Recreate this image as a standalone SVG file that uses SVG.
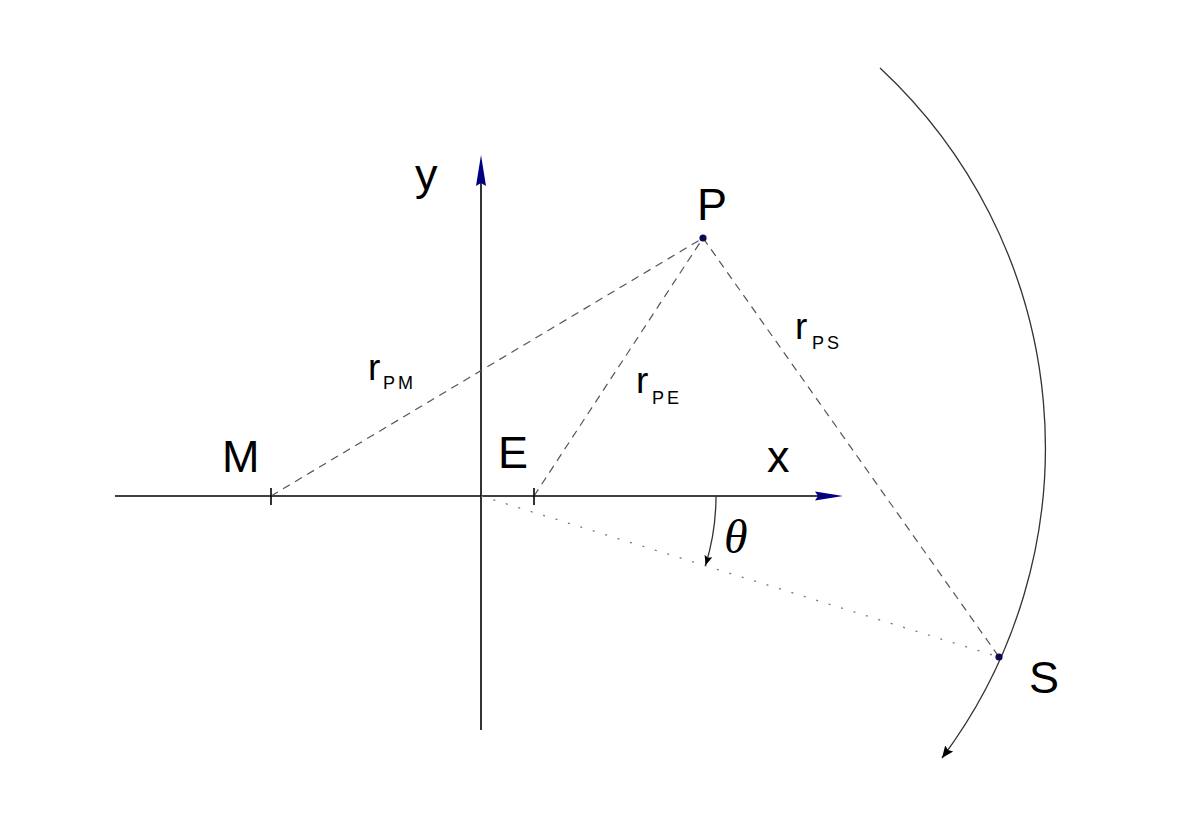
<svg xmlns="http://www.w3.org/2000/svg" width="1196" height="832" viewBox="0 0 1196 832">
<style>
.axis{stroke:#000;stroke-width:1.6;fill:none}
.dash{stroke:#555;stroke-width:1.2;stroke-dasharray:8 6;fill:none}
.dot{stroke:#777;stroke-width:1.3;stroke-dasharray:2 11;fill:none}
.arc{stroke:#333;stroke-width:1.3;fill:none}
.lbl{font-family:"Liberation Sans",Arial,sans-serif;font-size:45px;fill:#000}
.r{font-family:"Liberation Sans",Arial,sans-serif;font-size:37px;fill:#000}
.sub{font-size:18px;letter-spacing:3px}
.th{font-family:"Liberation Serif","Times New Roman",serif;font-style:italic;font-size:48px;fill:#000}
.pt{fill:#0a0a50}
</style>
<defs>
<marker id="ah" markerWidth="14" markerHeight="12" refX="12" refY="6" orient="auto" markerUnits="userSpaceOnUse">
<path d="M0,1 L12,6 L0,11 L2,6 Z" fill="#000"/>
</marker>
<marker id="ahs" markerWidth="12" markerHeight="10" refX="10" refY="5" orient="auto" markerUnits="userSpaceOnUse">
<path d="M0,1 L10,5 L0,9 L2,5 Z" fill="#000"/>
</marker>
</defs>
<rect width="1196" height="832" fill="#fff"/>
<g id="axes">
<line class="axis" x1="115" y1="496" x2="820" y2="496"/>
<polygon points="843,496 815,491.5 818,496 815,500.5" fill="#000080"/>
<line class="axis" x1="481" y1="730" x2="481" y2="182"/>
<polygon points="481,155 476,186 481,183 486,186" fill="#000080"/>
<text class="lbl" x="767" y="472">x</text>
<text class="lbl" x="415" y="190">y</text>
</g>
<g id="connectors">
<line class="dash" x1="271" y1="496" x2="703" y2="238"/>
<line class="dash" x1="534" y1="496" x2="703" y2="238"/>
<line class="dash" x1="703" y1="238" x2="999" y2="657"/>
<line class="dot" x1="481" y1="496" x2="999" y2="657"/>
<path class="arc" d="M880,68 A518,518 0 0 1 942,758" marker-end="url(#ah)"/>
<path class="arc" d="M716,496 A235,235 0 0 1 705.5,565.5" marker-end="url(#ahs)"/>
</g>
<g id="M">
<line class="axis" x1="271" y1="488" x2="271" y2="505"/>
<text class="lbl" x="222" y="472">M</text>
</g>
<g id="E">
<line class="axis" x1="534" y1="488" x2="534" y2="505"/>
<text class="lbl" x="498" y="468">E</text>
</g>
<g id="P">
<circle class="pt" cx="703" cy="238" r="3.6"/>
<text class="lbl" x="697" y="220">P</text>
</g>
<g id="S">
<circle class="pt" cx="999" cy="657" r="3.6"/>
<text class="lbl" x="1029" y="693">S</text>
</g>
<g id="labels">
<text class="r" x="368" y="380">r<tspan class="sub" x="383" y="389">PM</tspan></text>
<text class="r" x="636" y="393">r<tspan class="sub" x="652" y="404">PE</tspan></text>
<text class="r" x="795" y="339">r<tspan class="sub" x="812" y="349">PS</tspan></text>
<text class="th" x="724" y="553">θ</text>
</g>
</svg>
